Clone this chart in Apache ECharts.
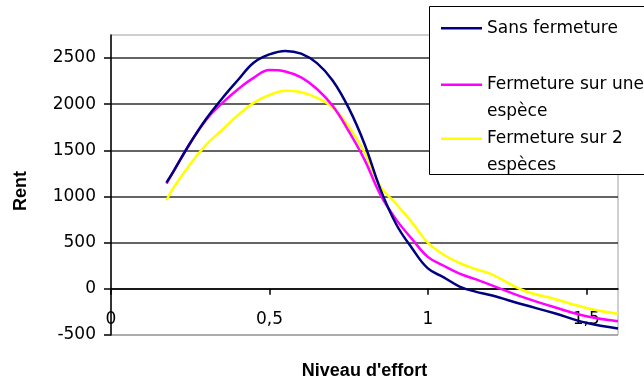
<!DOCTYPE html>
<html>
<head>
<meta charset="utf-8">
<script src="https://cdn.jsdelivr.net/npm/echarts@6/dist/echarts.min.js"></script>
<style>html,body{margin:0;padding:0;background:#fff}#c{width:644px;height:380px}</style>
</head>
<body>
<div id="c"></div>
<script>
var effort = [0.175,0.2,0.25,0.3,0.35,0.4,0.45,0.5,0.55,0.6,0.65,0.7,0.75,0.8,0.85,0.9,0.95,1.0,1.05,1.1,1.15,1.2,1.3,1.4,1.5,1.6];
var sansFermeture = [1150,1290,1580,1840,2060,2260,2450,2540,2578,2548,2445,2255,1960,1570,1080,700,440,221,125,25,-30,-70,-170,-265,-368,-430];
var fermetureUne = [1140,1290,1580,1830,2010,2160,2285,2370,2355,2290,2165,1980,1710,1400,1020,750,540,346,250,165,105,40,-90,-200,-296,-350];
var fermetureDeux = [960,1110,1350,1560,1720,1880,2015,2100,2145,2130,2070,1965,1760,1480,1110,920,720,500,370,280,215,160,-15,-110,-207,-270];
var seriesNames = ['Sans fermeture','Fermeture sur une espèce','Fermeture sur 2 espèces'];
var legendLabels = ['Sans fermeture','\nFermeture sur une\nespèce','\nFermeture sur 2\nespèces'];
var xTicks = [0,0.5,1,1.5];
var yTicks = [-500,0,500,1000,1500,2000,2500];
var yMin = -500, yMax = 2750;

function pairs(ys){ return effort.map(function(x,i){ return [x, ys[i]]; }); }

var chart = echarts.init(document.getElementById('c'), null, {renderer:'canvas'});
var font = 'DejaVu Sans';
var colors = ['#000080','#ff00ff','#ffff00'];
var gridTop = 35, gridBottom = 45, H = 380;
var plotH = H - gridTop - gridBottom;
var zeroOffset = -plotH * (0 - yMin) / (yMax - yMin);
var legendTops = [10, 40, 94];
var legends = seriesNames.map(function(n,i){
  return {
    data:[n], left:436, top:legendTops[i], orient:'vertical',
    icon:'rect', itemWidth:41, itemHeight:2.5, selectedMode:false, z:10,
    formatter:function(){ return legendLabels[i]; },
    textStyle:{fontFamily:font, fontSize:17, color:'#000', lineHeight:26.5}
  };
});
chart.setOption({
  animation:false,
  backgroundColor:'#fff',
  graphic:[{type:'rect', left:429, top:6, z:5, shape:{width:240, height:168},
    style:{fill:'#fff', stroke:'#000', lineWidth:1}}],
  legend: legends,
  grid:{left:111, right:26, top:gridTop, bottom:gridBottom, outerBoundsMode:'none', containLabel:false,
    show:true, borderColor:'#a0a0a0', borderWidth:1, backgroundColor:'#fff'},
  xAxis:{
    type:'value', min:0, max:1.6, interval:0.5, position:'bottom', offset:zeroOffset,
    name:"Niveau d'effort", nameLocation:'middle', nameGap:73,
    nameTextStyle:{fontFamily:'Liberation Sans', fontWeight:'bold', fontSize:18, color:'#000'},
    axisLine:{onZero:false, lineStyle:{color:'#000', width:1.5}},
    axisTick:{show:true, inside:false, length:6, customValues:xTicks, lineStyle:{color:'#000', width:1.5}},
    axisLabel:{customValues:xTicks, margin:22, fontFamily:font, fontSize:17, color:'#000',
      formatter:function(v){ return String(v).replace('.',','); }},
    splitLine:{show:false}
  },
  yAxis:{
    type:'value', min:yMin, max:yMax, interval:500,
    name:'Rent', nameLocation:'middle', nameGap:81,
    nameTextStyle:{fontFamily:'Liberation Sans', fontWeight:'bold', fontSize:18, color:'#000', padding:[0,12,0,0]},
    axisLine:{show:true, onZero:false, lineStyle:{color:'#000', width:1.5}},
    axisTick:{show:true, length:7, customValues:yTicks, lineStyle:{color:'#000', width:1.5}},
    axisLabel:{customValues:yTicks, margin:15, fontFamily:font, fontSize:17, color:'#000',
      formatter:function(v){ return String(v); }},
    splitLine:{show:true, lineStyle:{width:1.5, color:['#a0a0a0','#303030','#303030','#303030','#303030','#303030','#303030','#a0a0a0']}}
  },
  series:[
    {name:seriesNames[0], type:'line', data:pairs(sansFermeture), smooth:0.4, symbol:'none', lineStyle:{color:colors[0], width:2.5}, itemStyle:{color:colors[0]}, z:3},
    {name:seriesNames[1], type:'line', data:pairs(fermetureUne), smooth:0.4, symbol:'none', lineStyle:{color:colors[1], width:2.5}, itemStyle:{color:colors[1]}, z:2},
    {name:seriesNames[2], type:'line', data:pairs(fermetureDeux), smooth:0.4, symbol:'none', lineStyle:{color:colors[2], width:2.5}, itemStyle:{color:colors[2]}, z:1}
  ]
});
</script>
</body>
</html>
